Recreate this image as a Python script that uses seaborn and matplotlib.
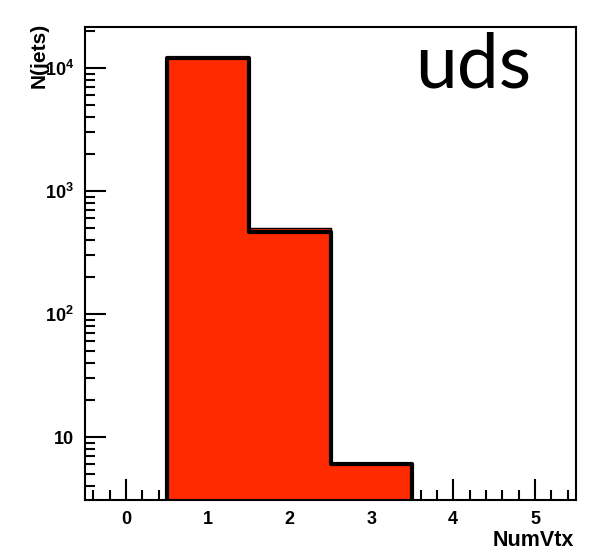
import numpy as np
import matplotlib
matplotlib.use("Agg")
import matplotlib.pyplot as plt
import matplotlib.ticker as mticker
import seaborn as sns

# Data
bin_centers = [1, 2, 3]
filled_counts = [12000, 500, 6]      # red filled histogram
outline_counts = [12000, 460, 6]     # black outline histogram
bin_edges = [0.5, 1.5, 2.5, 3.5]
x_ticks = [0, 1, 2, 3, 4, 5]
y_ticks = [10, 100, 1000, 10000]
y_tick_labels = ["10", r"$\mathbf{10^{2}}$", r"$\mathbf{10^{3}}$", r"$\mathbf{10^{4}}$"]
x_label = "NumVtx"
y_label = "N(jets)"
tag = "uds"

sns.set_style("white")
plt.rcParams["font.family"] = ["Liberation Sans", "DejaVu Sans"]
plt.rcParams["mathtext.fontset"] = "custom"
plt.rcParams["mathtext.rm"] = "Liberation Sans"
plt.rcParams["mathtext.bf"] = "Liberation Sans:bold"
plt.rcParams["text.color"] = "black"

fig = plt.figure(figsize=(6.01, 5.5), dpi=100)
ax = fig.add_axes([85/601, 1-500/550, (576-85)/601, (500-27)/550])

sns.histplot(x=bin_centers, weights=filled_counts, bins=bin_edges, element="step",
             fill=True, alpha=1, color="#ff2a00", edgecolor="black",
             linewidth=1.0, ax=ax)
sns.histplot(x=bin_centers, weights=outline_counts, bins=bin_edges, element="step",
             fill=True, color="black", facecolor=(0, 0, 0, 0), edgecolor="black",
             linewidth=3.0, ax=ax)

ax.set_yscale("log")
ax.set_xlim(-0.5, 5.5)
ax.set_ylim(10**0.488, 10**4.333)

ax.set_xticks(x_ticks)
ax.set_xticklabels([str(t) for t in x_ticks], fontweight="bold", fontsize=13)
ax.xaxis.set_minor_locator(mticker.MultipleLocator(0.2))
ax.set_yticks(y_ticks)
ax.set_yticklabels(y_tick_labels, fontweight="bold", fontsize=13)
ax.yaxis.set_minor_locator(mticker.LogLocator(base=10, subs=np.arange(2, 10)))
ax.yaxis.set_minor_formatter(mticker.NullFormatter())

ax.tick_params(axis="both", which="major", direction="in", length=15, width=1.5,
               color="black", labelcolor="black", pad=8,
               top=False, right=False, left=True, bottom=True)
ax.tick_params(axis="both", which="minor", direction="in", length=7, width=1.5,
               color="black", top=False, right=False, left=True, bottom=True)

for s in ax.spines.values():
    s.set_visible(True)
    s.set_color("black")
    s.set_linewidth(1.5)

ax.set_xlabel("")
ax.set_ylabel("")
fig.text(574/601, 1-541/550, x_label, ha="right", va="center",
         fontsize=15.5, fontweight="bold", color="black")
fig.text(39/601, 1-23/550, y_label, ha="center", va="top", rotation=90,
         fontsize=15, fontweight="bold", color="black")
fig.text(473/601, 1-87/550, tag, ha="center", va="baseline",
         fontsize=54, color="black", family=["Lato", "DejaVu Sans"])

fig.savefig("out.png", dpi=100, facecolor="white")
